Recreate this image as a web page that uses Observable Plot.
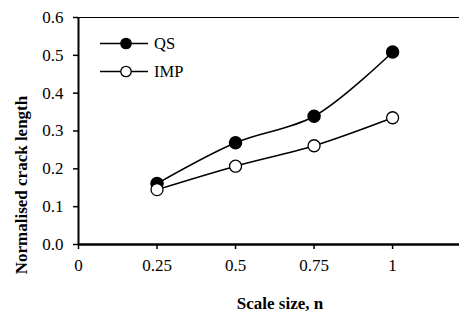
<!DOCTYPE html>
<html><head><meta charset="utf-8">
<script src="https://cdn.jsdelivr.net/npm/d3@7"></script>
<script src="https://cdn.jsdelivr.net/npm/@observablehq/plot@0.6"></script>
<style>body{margin:0;background:#fff} svg text{font-family:"Liberation Serif","DejaVu Serif",serif !important}</style>
</head><body><div id="chart"></div>
<script>
const scaleSizes = [0.25, 0.5, 0.75, 1];
const qsValues = [0.161, 0.269, 0.339, 0.509];
const impValues = [0.145, 0.207, 0.261, 0.335];
const xTicks = [0, 0.25, 0.5, 0.75, 1];
const yTicks = [0, 0.1, 0.2, 0.3, 0.4, 0.5, 0.6];
const seriesNames = ["QS", "IMP"];

const qs = scaleSizes.map((n, i) => ({n, v: qsValues[i]}));
const imp = scaleSizes.map((n, i) => ({n, v: impValues[i]}));

const font = "'Liberation Serif', serif";
const chart = Plot.plot({
  width: 459, height: 320,
  marginLeft: 78, marginRight: 0, marginTop: 17, marginBottom: 76,
  style: {fontFamily: font, fontSize: "17px", color: "#000", background: "#fff"},
  x: {domain: [0, 1.213], ticks: xTicks, tickFormat: d => String(d), label: null},
  y: {domain: [0, 0.6], ticks: yTicks, tickFormat: d => d.toFixed(1), label: null},
  marks: [
    Plot.ruleY([0.6], {stroke: "#000", strokeWidth: 1}),
    Plot.axisY({ticks: yTicks, tickFormat: d => d.toFixed(1), tickSize: 5, tickPadding: 10, strokeWidth: 1.5, fontSize: 17, label: null}),
    Plot.axisX({ticks: xTicks, tickFormat: d => String(d), tickSize: 5, tickPadding: 9, strokeWidth: 1.5, fontSize: 17, label: null}),
    Plot.ruleX([0], {stroke: "#000", strokeWidth: 2}),
    Plot.ruleY([0], {stroke: "#000", strokeWidth: 2.5}),
    Plot.line(qs, {x: "n", y: "v", curve: "catmull-rom", stroke: "#000", strokeWidth: 1.5}),
    Plot.line(imp, {x: "n", y: "v", curve: "catmull-rom", stroke: "#000", strokeWidth: 1.5}),
    Plot.dot(qs, {x: "n", y: "v", r: 6, fill: "#000", stroke: "#000"}),
    Plot.dot(imp, {x: "n", y: "v", r: 6, fill: "#fff", stroke: "#000", strokeWidth: 1.3}),
    Plot.text(["Scale size, n"], {frameAnchor: "bottom", textAnchor: "middle", dx: 11, dy: 64, fontWeight: "bold", fontSize: 17, text: d => d}),
    Plot.text(["Normalised crack length"], {frameAnchor: "left", textAnchor: "middle", rotate: -90, dx: -57, dy: 54, fontWeight: "bold", fontSize: 17, text: d => d})
  ]
});
document.getElementById("chart").appendChild(chart);

const svg = d3.select(chart);
const lg = svg.append("g");
seriesNames.forEach((name, i) => {
  const y = 43.5 + i * 28;
  lg.append("line").attr("x1", 100).attr("x2", 148).attr("y1", y).attr("y2", y).attr("stroke", "#000").attr("stroke-width", 1.5);
  lg.append("circle").attr("cx", 126).attr("cy", y).attr("r", 5.2).attr("fill", i === 0 ? "#000" : "#fff").attr("stroke", "#000").attr("stroke-width", 1.3);
  lg.append("text").attr("x", 154).attr("y", y).attr("dy", "0.35em").attr("text-anchor", "start").attr("font-size", 16.5).text(name);
});
</script></body></html>
